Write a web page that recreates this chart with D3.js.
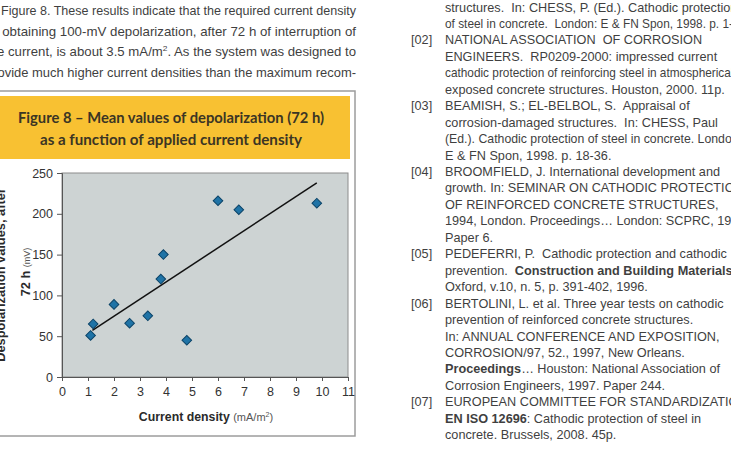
<!DOCTYPE html>
<html>
<head>
<meta charset="utf-8">
<script src="https://cdn.jsdelivr.net/npm/d3@7"></script>
<style>
  html, body { margin: 0; padding: 0; background: #fff; }
  svg { display: block; }
  svg text { white-space: pre; }
</style>
</head>
<body>
<svg id="page" width="731" height="449"></svg>
<script>
// values
var density = [1.1, 1.2, 2.0, 2.6, 3.3, 3.8, 3.9, 4.8, 6.0, 6.8, 9.8];          // mA/m2
var depolarization = [51, 65, 89, 66, 75, 120, 150, 45, 216, 205, 213];         // mV
var trendDensity = [1.17, 9.8];
var trendDepol = [57, 238];
var xTickValues = [0, 1, 2, 3, 4, 5, 6, 7, 8, 9, 10, 11];
var yTickValues = [0, 50, 100, 150, 200, 250];

var titleLines = ["Figure 8 \u2013 Mean values of depolarization (72 h)",
                  "as a function of applied current density"];

// body text around the figure (page is cropped on both sides)
var leftLines = [
  [{t: "Figure 8. These results indicate that the required current density"}],
  [{t: "for obtaining 100-mV depolarization, after 72 h of interruption of"}],
  [{t: "the current, is about 3.5 mA/m"}, {t: "2", sup: true}, {t: ". As the system was designed to"}],
  [{t: "provide much higher current densities than the maximum recom-"}]
];

var refLines = [
  ["", [{t: "structures.  In: CHESS, P. (Ed.). Cathodic protection"}]],
  ["", [{t: "of steel in concrete.  London: E & FN Spon, 1998. p. 1-"}], 288],
  ["[02]", [{t: "NATIONAL ASSOCIATION  OF CORROSION"}]],
  ["", [{t: "ENGINEERS.  RP0209-2000: impressed current"}]],
  ["", [{t: "cathodic protection of reinforcing steel in atmospherically"}], 297],
  ["", [{t: "exposed concrete structures. Houston, 2000. 11p."}]],
  ["[03]", [{t: "BEAMISH, S.; EL-BELBOL, S.  Appraisal of"}]],
  ["", [{t: "corrosion-damaged structures.  In: CHESS, Paul"}]],
  ["", [{t: "(Ed.). Cathodic protection of steel in concrete. London:"}], 297],
  ["", [{t: "E & FN Spon, 1998. p. 18-36."}]],
  ["[04]", [{t: "BROOMFIELD, J. International development and"}]],
  ["", [{t: "growth. In: SEMINAR ON CATHODIC PROTECTION"}]],
  ["", [{t: "OF REINFORCED CONCRETE STRUCTURES,"}]],
  ["", [{t: "1994, London. Proceedings\u2026 London: SCPRC, 1994."}]],
  ["", [{t: "Paper 6."}]],
  ["[05]", [{t: "PEDEFERRI, P.  Cathodic protection and cathodic"}]],
  ["", [{t: "prevention.  "}, {t: "Construction and Building Materials", b: true}, {t: ","}]],
  ["", [{t: "Oxford, v.10, n. 5, p. 391-402, 1996."}]],
  ["[06]", [{t: "BERTOLINI, L. et al. Three year tests on cathodic"}]],
  ["", [{t: "prevention of reinforced concrete structures."}]],
  ["", [{t: "In: ANNUAL CONFERENCE AND EXPOSITION,"}]],
  ["", [{t: "CORROSION/97, 52., 1997, New Orleans."}]],
  ["", [{t: "Proceedings", b: true}, {t: "\u2026 Houston: National Association of"}]],
  ["", [{t: "Corrosion Engineers, 1997. Paper 244."}]],
  ["[07]", [{t: "EUROPEAN COMMITTEE FOR STANDARDIZATION."}]],
  ["", [{t: "EN ISO 12696", b: true}, {t: ": Cathodic protection of steel in"}]],
  ["", [{t: "concrete. Brussels, 2008. 45p."}]]
];

var svg = d3.select("#page");
var bodyFont = "Arial, 'Liberation Sans', sans-serif";
var textColor = "#3f3f3f";

function addRuns(sel, runs) {
  runs.forEach(function(r) {
    var ts = sel.append("tspan").text(r.t);
    if (r.b) ts.attr("font-weight", "bold");
    if (r.sup) ts.attr("font-size", "8px").attr("dy", -5);
    else if (r.afterSup) ts.attr("dy", 5);
  });
}

// ---- left column paragraph (justified, cut by page edge)
var leftX = [1, -17, -14, -14];
leftLines.forEach(function(runs, i) {
  var line = svg.append("text")
      .attr("x", leftX[i])
      .attr("y", 15 + i * 20.7)
      .attr("font-family", bodyFont)
      .attr("font-size", "12.6px")
      .attr("fill", textColor)
      .attr("textLength", 356 - leftX[i])
      .attr("lengthAdjust", "spacingAndGlyphs");
  var rr = runs.map(function(r, k) {
    var o = Object.assign({}, r);
    if (k > 0 && runs[k - 1].sup) o.afterSup = true;
    return o;
  });
  addRuns(line, rr);
});

// ---- right column references
refLines.forEach(function(d, i) {
  var y = 11.5 + i * 16.45;
  if (d[0]) {
    svg.append("text")
        .attr("x", 411).attr("y", y)
        .attr("font-family", bodyFont).attr("font-size", "12.7px")
        .attr("fill", textColor)
        .text(d[0]);
  }
  var line = svg.append("text")
      .attr("x", 445).attr("y", y)
      .attr("font-family", bodyFont).attr("font-size", "12.7px")
      .attr("fill", textColor);
  if (d[2]) line.attr("textLength", d[2]).attr("lengthAdjust", "spacingAndGlyphs");
  addRuns(line, d[1]);
});

// ---- figure box
svg.append("rect")
    .attr("x", -2).attr("y", 91)
    .attr("width", 357).attr("height", 345)
    .attr("fill", "#fff")
    .attr("stroke", "#9c9c9c")
    .attr("stroke-width", 1.5);

svg.append("rect")
    .attr("x", -2).attr("y", 96)
    .attr("width", 352).attr("height", 63)
    .attr("fill", "#f8c132");

svg.selectAll(".title")
    .data(titleLines)
    .enter().append("text")
    .attr("class", "title")
    .attr("x", 171)
    .attr("y", function(d, i) { return 123 + i * 22; })
    .attr("text-anchor", "middle")
    .attr("font-family", "Lato, 'Noto Sans', sans-serif")
    .attr("font-weight", "bold")
    .attr("font-size", "16px")
    .attr("fill", "#3b3524")
    .attr("textLength", function(d, i) { return i === 0 ? 306 : 262; })
    .attr("lengthAdjust", "spacingAndGlyphs")
    .text(function(d) { return d; });

// ---- chart
var x = d3.scaleLinear().domain([0, 11]).range([62, 348]);
var y = d3.scaleLinear().domain([0, 250]).range([377, 173]);

svg.append("rect")
    .attr("x", x(0)).attr("y", y(250))
    .attr("width", x(11) - x(0)).attr("height", y(0) - y(250))
    .attr("fill", "#cdd3d3")
    .attr("stroke", "#8c8c8c")
    .attr("stroke-width", 1);

var xAxis = svg.append("g")
    .attr("transform", "translate(0," + y(0) + ")")
    .call(d3.axisBottom(x).tickValues(xTickValues).tickSize(4).tickPadding(6).tickFormat(d3.format("d")));
var yAxis = svg.append("g")
    .attr("transform", "translate(" + x(0) + ",0)")
    .call(d3.axisLeft(y).tickValues(yTickValues).tickSize(5).tickPadding(4));

[xAxis, yAxis].forEach(function(a) {
  a.select(".domain").attr("stroke", "#555");
  a.selectAll(".tick line").attr("stroke", "#555");
  a.selectAll(".tick text")
      .attr("font-family", bodyFont)
      .attr("font-size", "12.5px")
      .attr("fill", "#333");
});

svg.append("line")
    .attr("x1", x(trendDensity[0])).attr("y1", y(trendDepol[0]))
    .attr("x2", x(trendDensity[1])).attr("y2", y(trendDepol[1]))
    .attr("stroke", "#111")
    .attr("stroke-width", 1.5);

var diamond = d3.symbol().type(d3.symbolSquare).size(46);
svg.append("g")
    .selectAll("path")
    .data(density)
    .enter().append("path")
    .attr("d", diamond)
    .attr("transform", function(d, i) {
      return "translate(" + x(d) + "," + y(depolarization[i]) + ") rotate(45)";
    })
    .attr("fill", "#1f73a6")
    .attr("stroke", "#0c4468")
    .attr("stroke-width", 1);

// axis titles
var xt = svg.append("text")
    .attr("x", 206).attr("y", 421)
    .attr("text-anchor", "middle")
    .attr("font-family", bodyFont)
    .attr("fill", "#2a2a2a");
xt.append("tspan").attr("font-weight", "bold").attr("font-size", "12.3px").text("Current density ");
xt.append("tspan").attr("font-size", "11px").attr("fill", "#555").text("(mA/m");
xt.append("tspan").attr("font-size", "7px").attr("fill", "#555").attr("dy", -4).text("2");
xt.append("tspan").attr("font-size", "11px").attr("fill", "#555").attr("dy", 4).text(")");

svg.append("text")
    .attr("transform", "translate(5,275) rotate(-90)")
    .attr("text-anchor", "middle")
    .attr("font-family", bodyFont)
    .attr("font-weight", "bold")
    .attr("font-size", "12.8px")
    .attr("fill", "#2a2a2a")
    .text("Despolarization values, after");

var yt2 = svg.append("text")
    .attr("transform", "translate(30,272) rotate(-90)")
    .attr("text-anchor", "middle")
    .attr("font-family", bodyFont)
    .attr("fill", "#2a2a2a");
yt2.append("tspan").attr("font-weight", "bold").attr("font-size", "12.8px").text("72 h ");
yt2.append("tspan").attr("font-size", "9px").attr("fill", "#555").text("(mV)");
</script>
</body>
</html>
